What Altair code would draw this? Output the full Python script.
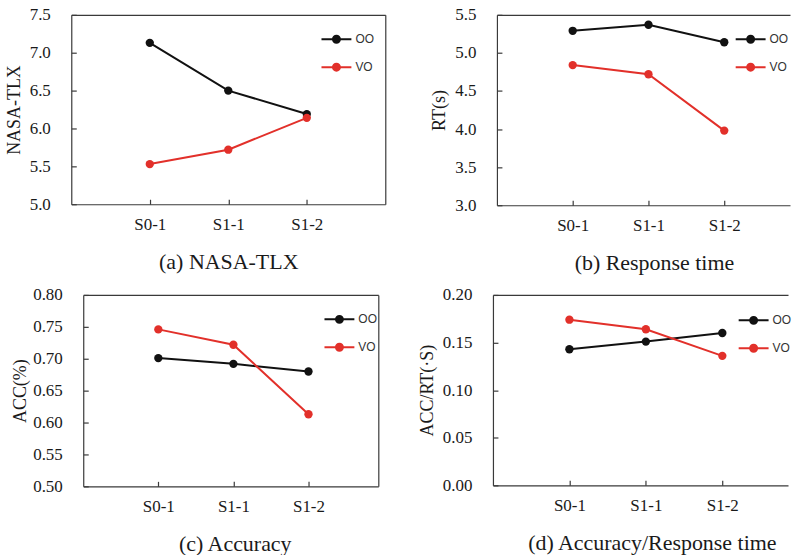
import altair as alt
import pandas as pd

cats = ["S0-1", "S1-1", "S1-2"]
series = ["OO", "VO"]

tlx_oo = [7.13, 6.50, 6.19]
tlx_vo = [5.53, 5.72, 6.14]
rt_oo = [5.29, 5.37, 5.14]
rt_vo = [4.84, 4.72, 3.98]
acc_oo = [0.701, 0.692, 0.680]
acc_vo = [0.746, 0.722, 0.613]
eff_oo = [0.143, 0.151, 0.160]
eff_vo = [0.174, 0.164, 0.136]

tlx_ticks = [5.0, 5.5, 6.0, 6.5, 7.0, 7.5]
rt_ticks = [3.0, 3.5, 4.0, 4.5, 5.0, 5.5]
acc_ticks = [0.50, 0.55, 0.60, 0.65, 0.70, 0.75, 0.80]
eff_ticks = [0.00, 0.05, 0.10, 0.15, 0.20]

BLACK = "#111111"
RED = "#e2302a"
FRAME = "#3a3a3a"
SERIF = "Liberation Serif"
SANS = "Liberation Sans"


def circ(r):
    return f"M{-r},0A{r},{r} 0 1,0 {r},0A{r},{r} 0 1,0 {-r},0"


LEG_PATH = "M-1,0L1,0" + circ(0.0667) + circ(0.1667) + circ(0.2333)

label_expr = ("datum.value == 1 ? '" + cats[0] + "' : datum.value == 2 ? '" + cats[1]
              + "' : datum.value == 3 ? '" + cats[2] + "' : ''")


def panel(oo, vo, yticks, fmt, ytitle, caption, width, height, xmax, lx, ly,
          ytitle_pad, cap_pad, cap_x, inset=0, right_border=True):
    n = len(cats)
    df = pd.DataFrame({
        "pos": list(range(1, n + 1)) * 2,
        "cat": cats * 2,
        "series": [series[0]] * n + [series[1]] * n,
        "value": oo + vo,
    })
    xscale = alt.Scale(domain=[0, xmax], range=[inset, width], nice=False, zero=False)
    yscale = alt.Scale(domain=[yticks[0], yticks[-1]], nice=False, zero=False)
    cscale = alt.Scale(domain=series, range=[BLACK, RED])

    x_main = alt.X("pos:Q", scale=xscale, axis=alt.Axis(
        values=[1, 2, 3], labelExpr=label_expr, ticks=False, tickSize=0, domain=True,
        grid=False, title=caption, labelPadding=12, titlePadding=cap_pad, titleX=cap_x,
        labelFont=SERIF, titleFont=SERIF,
        labelFontSize=17, titleFontSize=22, orient="bottom"))
    y_main = alt.Y("value:Q", scale=yscale, axis=alt.Axis(
        values=yticks, format=fmt, ticks=False, tickSize=0, domain=True, grid=False,
        title=ytitle, labelPadding=21, titlePadding=ytitle_pad, offset=-inset,
        labelFont=SERIF, titleFont=SERIF,
        labelFontSize=17, titleFontSize=18, orient="left"))
    x_tick = alt.X("pos:Q", scale=xscale, axis=alt.Axis(
        values=[1, 2, 3], labels=False, ticks=True, tickSize=5, offset=-5,
        domain=False, grid=False, title=None, orient="bottom"))
    y_tick = alt.Y("value:Q", scale=yscale, axis=alt.Axis(
        values=yticks, labels=False, ticks=True, tickSize=5, offset=-5 - inset,
        domain=False, grid=False, title=None, orient="left"))
    x_top = alt.X("pos:Q", scale=xscale, axis=alt.Axis(
        labels=False, ticks=False, domain=True, grid=False, title=None, orient="top"))
    if right_border:
        y_right = alt.Y("value:Q", scale=yscale, axis=alt.Axis(
            labels=False, ticks=False, domain=True, grid=False, title=None, orient="right"))
    else:
        y_right = alt.Y("value:Q", scale=yscale, axis=None)

    color_leg = alt.Color("series:N", scale=cscale, legend=alt.Legend(
        orient="none", legendX=lx, legendY=ly, title=None,
        symbolType=LEG_PATH, symbolSize=900, symbolStrokeWidth=2,
        labelFont=SANS, labelFontSize=12, labelColor="#333333",
        labelOffset=3, rowPadding=4, padding=0))
    color_pts = alt.Color("series:N", scale=cscale, legend=None)

    base = alt.Chart(df)
    line = base.mark_line(strokeWidth=2).encode(x=x_main, y=y_main, color=color_leg)
    pts = base.mark_circle(size=70, opacity=1).encode(x=x_tick, y=y_tick, color=color_pts)
    frame = base.mark_line(strokeOpacity=0).encode(x=x_top, y=y_right, detail="series:N")
    return alt.layer(line, pts, frame).resolve_axis(
        x="independent", y="independent").properties(width=width, height=height)


pa = panel(tlx_oo, tlx_vo, tlx_ticks, ".1f", "NASA-TLX", "(a) NASA-TLX",
           315, 190, 4.0, 250, 8.5, 6, 19, 157.5)
pb = panel(rt_oo, rt_vo, rt_ticks, ".1f", "RT(s)", "(b) Response time",
           294, 191, 3.868, 238.5, 8.5, 6, 19, 157.5, right_border=False)
pc = panel(acc_oo, acc_vo, acc_ticks, ".2f", "ACC(%)", "(c) Accuracy",
           308, 192, 3.93, 253, 8.5, 3, 19, 164, inset=12)
pd_ = panel(eff_oo, eff_vo, eff_ticks, ".2f", "ACC/RT(·S)", "(d) Accuracy/Response time",
            296, 191, 3.859, 245.5, 9.5, 6, 19, 159.4, right_border=False)

row1 = alt.hconcat(pa, pb, spacing=45).resolve_scale(color="independent")
row2 = alt.hconcat(pc, pd_, spacing=40).resolve_scale(color="independent")

chart = alt.vconcat(row1, row2, spacing=13).resolve_scale(color="independent").properties(
    padding={"left": 4.5, "top": 5, "right": 0, "bottom": 0}
).configure_view(stroke=None).configure_axis(
    labelFont=SERIF, titleFont=SERIF, labelColor="#1a1a1a", titleColor="#1a1a1a",
    titleFontWeight="normal", tickColor=FRAME, tickWidth=1.2,
    domainColor=FRAME, domainWidth=1.2
)

chart.save("out.html", embed_options={"renderer": "svg", "actions": False})
